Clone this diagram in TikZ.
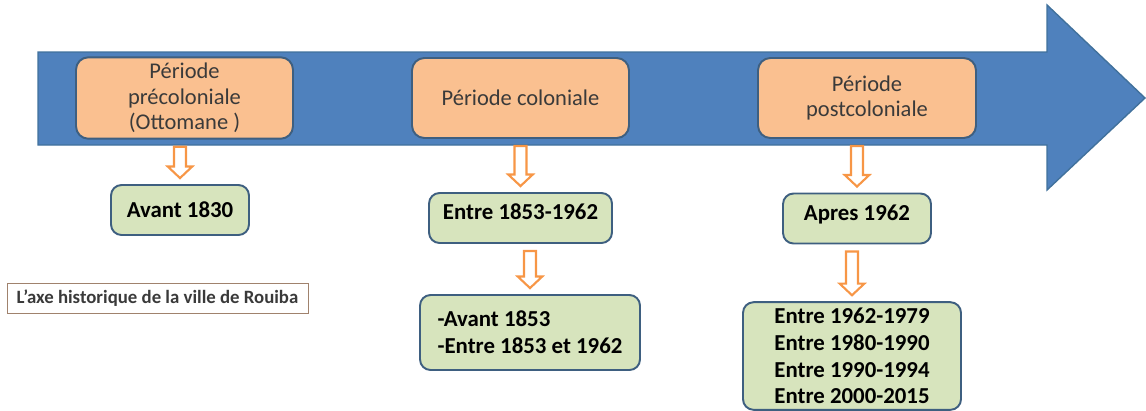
\documentclass[tikz,border=0pt]{standalone}
\usepackage{fontspec}
\setmainfont{Carlito}
\usetikzlibrary{calc}

\definecolor{arrowblue}{HTML}{4F81BD}
\definecolor{arrowedge}{HTML}{41719C}
\definecolor{periodfill}{HTML}{FAC090}
\definecolor{datefill}{HTML}{D7E4BD}
\definecolor{boxedge}{HTML}{3E5F80}
\definecolor{hollowedge}{HTML}{F79646}
\definecolor{textgray}{HTML}{3A3A3A}
\definecolor{captionedge}{HTML}{A0826D}

\tikzset{
  period/.style={fill=periodfill, draw=boxedge, line width=1.1pt, rounded corners=7pt,
    minimum width=4.34cm, minimum height=1.6cm, align=center, text=textgray,
    font=\fontsize{12.8}{14.5}\selectfont},
  datebox/.style={fill=datefill, draw=boxedge, line width=1.1pt, rounded corners=6pt,
    minimum height=1cm, align=left, font=\bfseries\fontsize{13}{15.2}\selectfont},
  hollow/.style={draw=hollowedge, fill=white, line width=1.2pt, line join=miter},
  captionbox/.style={draw=captionedge, line width=0.5pt, minimum width=6.02cm,
    minimum height=0.6cm, text=textgray, font=\bfseries\fontsize{10.7}{12}\selectfont}
}

\newcommand{\hollowarrow}[2]{%
  \draw[hollow] let \p1=(#1.south), \p2=(#2.north) in
    (\x2-3.4pt,\y1-4pt) -- (\x2+3.4pt,\y1-4pt) -- (\x2+3.4pt,\y2+10pt)
    -- (\x2+7pt,\y2+10pt) -- (\x2,\y2+3.4pt) -- (\x2-7pt,\y2+10pt)
    -- (\x2-3.4pt,\y2+10pt) -- cycle;}

\begin{document}
\begin{tikzpicture}[x=0.02cm, y=-0.02cm]

\useasboundingbox (0,0) rectangle (1146,410);

\draw [fill=arrowblue, draw=arrowedge, line width=0.8pt] (38,52) -- (1047,52) -- (1047,5)
  -- (1145,98) -- (1047,190) -- (1047,145) -- (38,145) -- cycle;

\node (p1) at (184.5, 98) [period] {Période\\précoloniale\\(Ottomane )};
\node (p2) at (520.5, 98) [period] {Période coloniale};
\node (p3) at (867, 98) [period, minimum width=4.36cm] {Période\\postcoloniale};

\node (d1) at (180, 210) [datebox, minimum width=2.76cm] {Avant 1830};
\node (d2) at (520.5, 218) [datebox, minimum width=3.66cm, text depth=7pt] {Entre 1853-1962};
\node (d3) at (857, 218.5) [datebox, minimum width=2.96cm, text depth=7pt] {Apres 1962};

\node (e2) at (530, 332.5) [datebox, minimum width=4.4cm, minimum height=1.5cm] {-Avant 1853\\-Entre 1853 et 1962};
\node (e3) at (852, 356) [datebox, minimum width=4.36cm, minimum height=2.12cm, align=center]
  {Entre 1962-1979\\Entre 1980-1990\\Entre 1990-1994\\Entre 2000-2015};

\node (legend) at (157.5, 298) [captionbox] {L’axe historique de la ville de Rouiba};

\hollowarrow{p1}{d1}
\hollowarrow{p2}{d2}
\hollowarrow{p3}{d3}
\hollowarrow{d2}{e2}
\hollowarrow{d3}{e3}

\end{tikzpicture}
\end{document}
